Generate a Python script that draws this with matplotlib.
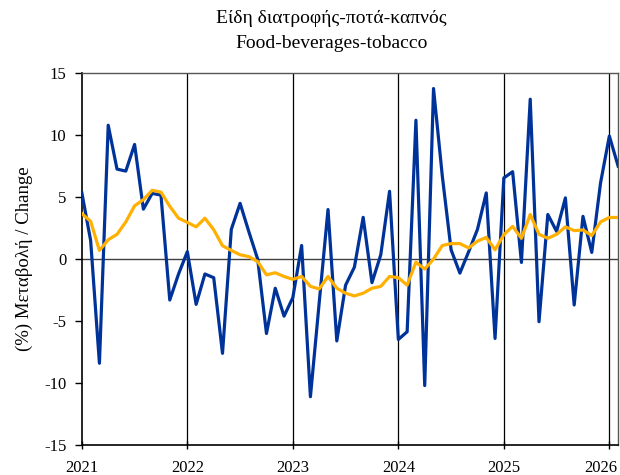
import matplotlib
matplotlib.use("Agg")
import matplotlib.pyplot as plt
from matplotlib.transforms import ScaledTranslation

plt.rcParams['font.family'] = ['Liberation Serif', 'DejaVu Serif']

monthly_change = [5.35, 1.5, -8.4, 10.8, 7.26, 7.1, 9.25, 4.03, 5.3, 5.16,
                  -3.3, -1.2, 0.6, -3.65, -1.2, -1.5, -7.6, 2.4, 4.5, 2.2,
                  0.0, -6.0, -2.35, -4.6, -3.1, 1.1, -11.1, -3.5, 4.0, -6.6,
                  -2.1, -0.65, 3.37, -1.9, 0.35, 5.47, -6.48, -5.86, 11.2, -10.2,
                  13.76, 6.7, 0.75, -1.13, 0.6, 2.4, 5.34, -6.4, 6.55, 7.05,
                  -0.27, 12.9, -5.05, 3.6, 2.24, 4.94, -3.7, 3.45, 0.54, 6.15,
                  9.93, 7.5]
smoothed = [3.67, 3.05, 0.7, 1.56, 2.0, 3.0, 4.3, 4.8, 5.55, 5.4,
            4.26, 3.3, 2.96, 2.6, 3.3, 2.37, 1.08, 0.7, 0.35, 0.2,
            -0.2, -1.27, -1.1, -1.4, -1.63, -1.4, -2.2, -2.4, -1.4, -2.35,
            -2.75, -2.97, -2.75, -2.35, -2.2, -1.4, -1.5, -2.1, -0.25, -0.8,
            0.0, 1.1, 1.25, 1.25, 0.9, 1.45, 1.75, 0.75, 1.97, 2.64,
            1.68, 3.6, 2.0, 1.68, 2.0, 2.6, 2.3, 2.35, 1.9, 3.0,
            3.36, 3.36]
year_labels = ['2021', '2022', '2023', '2024', '2025', '2026']
y_ticks = [-15, -10, -5, 0, 5, 10, 15]

fig = plt.figure(figsize=(6.2, 4.75), dpi=100)
ax = fig.add_axes([0.132, 0.063, 0.865, 0.783])

x = list(range(len(monthly_change)))
year_pos = [12 * k for k in range(len(year_labels))]

for p in year_pos[1:]:
    ax.axvline(p, color='black', lw=0.9, zorder=1)
ax.axhline(0, color='#404040', lw=1.0, zorder=1)

ax.plot(x, monthly_change, color='#003399', lw=2.3, zorder=3)
ax.plot(x, smoothed, color='#FFB000', lw=2.3, zorder=4)

ax.set_xlim(0, len(monthly_change) - 1)
ax.set_ylim(-15, 15)
ax.set_yticks(y_ticks)
ax.set_yticklabels([str(v) for v in y_ticks], fontsize=12)
ax.set_xticks(year_pos)
ax.set_xticklabels(year_labels, fontsize=12)
ax.tick_params(axis='y', direction='out', length=5, width=1, pad=6)
ax.tick_params(axis='x', direction='inout', length=6, width=1, pad=8)

last = ax.get_xticklabels()[-1]
last.set_ha('right')
last.set_transform(last.get_transform() + ScaledTranslation(8 / 100, 0, fig.dpi_scale_trans))

for s in ['left', 'bottom']:
    ax.spines[s].set_color('black')
    ax.spines[s].set_linewidth(1.2)
for s in ['top', 'right']:
    ax.spines[s].set_color('#555555')
    ax.spines[s].set_linewidth(1.0)

ax.set_ylabel('(%) Μεταβολή / Change', fontsize=13.5, labelpad=8)
fig.text(0.535, 0.962, 'Είδη διατροφής-ποτά-καπνός', ha='center', va='center', fontsize=14)
fig.text(0.535, 0.909, 'Food-beverages-tobacco', ha='center', va='center', fontsize=14)

fig.savefig('out.png', dpi=100)
